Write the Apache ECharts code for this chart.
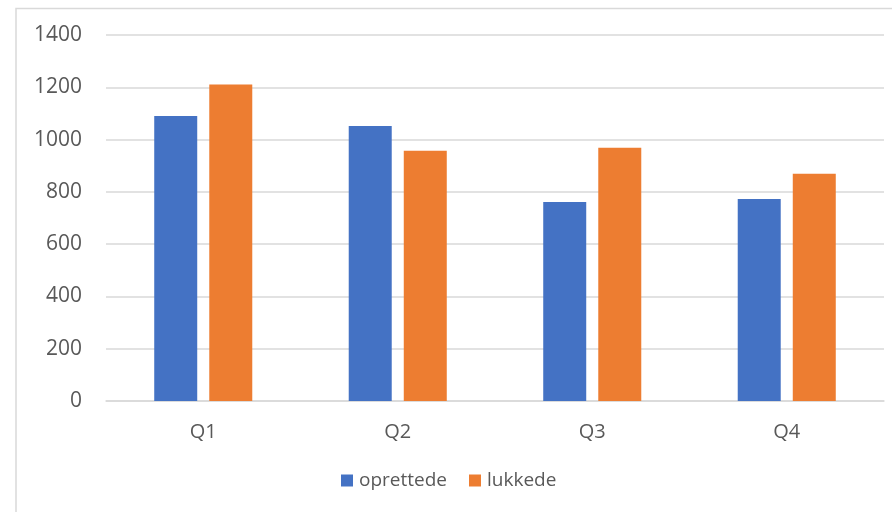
<!DOCTYPE html>
<html>
<head>
<meta charset="utf-8">
<script src="https://cdn.jsdelivr.net/npm/echarts@6/dist/echarts.min.js"></script>
<style>html,body{margin:0;padding:0;background:#fff}#c{width:892px;height:512px}</style>
</head>
<body>
<div id="c"></div>
<script>
const categories = ['Q1', 'Q2', 'Q3', 'Q4'];
const oprettede = [1090, 1052, 761, 773];
const lukkede = [1211, 957, 969, 869];
const yTicks = [0, 200, 400, 600, 800, 1000, 1200, 1400];

const chart = echarts.init(document.getElementById('c'));
const font = 'Open Sans';
chart.setOption({
  animation: false,
  color: ['#4472C4', '#ED7D31'],
  graphic: [{
    type: 'rect', silent: true,
    shape: { x: 16, y: 8.5, width: 1000, height: 1000 },
    style: { fill: 'none', stroke: '#d9d9d9', lineWidth: 1.5 }
  }],
  grid: { left: 106, right: 8, top: 35, bottom: 111, containLabel: false },
  legend: {
    data: ['oprettede', 'lukkede'],
    left: 336, bottom: 17,
    itemWidth: 12, itemHeight: 12, itemGap: 22,
    icon: 'rect',
    textStyle: { fontFamily: font, fontSize: 19, color: '#595959', padding: [0, 0, 0, 1] }
  },
  xAxis: {
    type: 'category', data: categories,
    axisLine: { lineStyle: { color: '#d9d9d9', width: 1.5 } },
    axisTick: { show: false },
    axisLabel: { fontFamily: font, fontSize: 20, color: '#595959', margin: 21 }
  },
  yAxis: {
    type: 'value', min: yTicks[0], max: yTicks[yTicks.length - 1], interval: 200,
    axisLine: { show: false }, axisTick: { show: false },
    splitLine: { lineStyle: { color: '#d9d9d9', width: 1.5 } },
    axisLabel: { fontFamily: font, fontSize: 21, color: '#595959', margin: 24, formatter: v => String(v) }
  },
  series: [
    { name: 'oprettede', type: 'bar', data: oprettede, barWidth: 43, barGap: '28%' },
    { name: 'lukkede', type: 'bar', data: lukkede, barWidth: 43, barGap: '28%' }
  ]
});
</script>
</body>
</html>
